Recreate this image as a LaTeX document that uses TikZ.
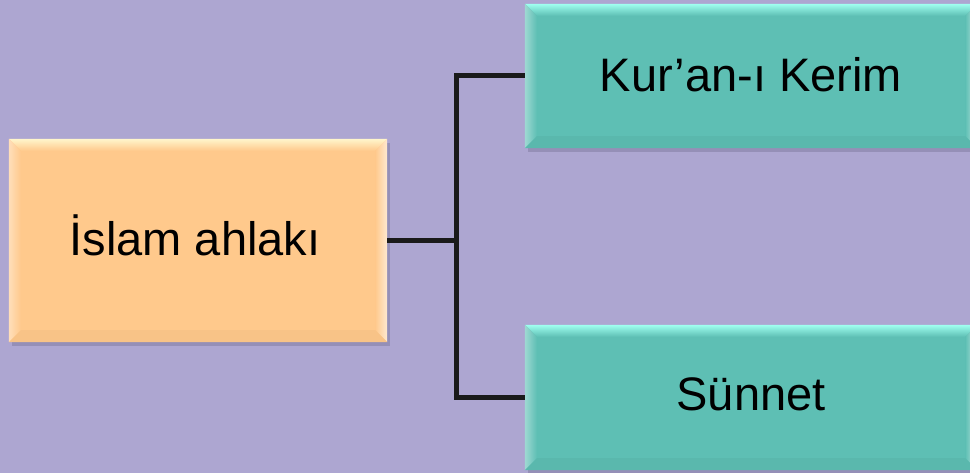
\documentclass[tikz,border=0pt]{standalone}
\usepackage{fontspec}
\setmainfont{Liberation Sans}
\usetikzlibrary{calc}
\definecolor{bg}{HTML}{ADA6D1}
\definecolor{orbase}{HTML}{FFC98C}
\definecolor{orlight}{HTML}{FFF6CC}
\definecolor{ordark}{HTML}{F8C387}
\definecolor{tebase}{HTML}{5EBFB4}
\definecolor{telight}{HTML}{A0FFF0}
\definecolor{tedark}{HTML}{5AB8AD}
\definecolor{conncol}{HTML}{1A1A1A}
\definecolor{shadowcol}{HTML}{8C86AC}
\newcommand\mybevel[4]{% name, light, base, dark
  \fill[shadowcol,opacity=0.7] ($(#1.north west)+(3,4)$) rectangle ($(#1.south east)+(3,4)$);
  \fill[#3] (#1.north west) rectangle (#1.south east);
  \shade[top color=#2,bottom color=#3] (#1.north west) -- (#1.north east) -- ($(#1.north east)+(-12,12)$) -- ($(#1.north west)+(12,12)$) -- cycle;
  \shade[left color=#3,right color=white!60!#3] (#1.north east) -- (#1.south east) -- ($(#1.south east)+(-12,-12)$) -- ($(#1.north east)+(-12,12)$) -- cycle;
  \shade[left color=white!40!#3,right color=#3] (#1.north west) -- (#1.south west) -- ($(#1.south west)+(12,-12)$) -- ($(#1.north west)+(12,12)$) -- cycle;
  \fill[#4] (#1.south west) -- (#1.south east) -- ($(#1.south east)+(-12,-12)$) -- ($(#1.south west)+(12,-12)$) -- cycle;
}
\begin{document}
\begin{tikzpicture}[x=1pt,y=-1pt]
\tikzset{
  boxshape/.style={rectangle, inner sep=0pt, draw=none},
  lbl/.style={inner sep=0pt, font=\fontsize{47}{56}\selectfont, text=black},
  conn/.style={draw=conncol, line width=5pt, line join=miter}
}
\fill[bg] (0,0) rectangle (970,473);
\useasboundingbox (0,0) rectangle (970,473);
% boxes
\node[boxshape, minimum width=378pt, minimum height=203pt] (islam) at (198,240.5) {};
\node[boxshape, minimum width=452pt, minimum height=144pt] (kuran) at (751,76) {};
\node[boxshape, minimum width=452pt, minimum height=145pt] (sunnet) at (751,397.5) {};
\mybevel{islam}{orlight}{orbase}{ordark}
\mybevel{kuran}{telight}{tebase}{tedark}
\mybevel{sunnet}{telight}{tebase}{tedark}
\node[lbl, anchor=base] (tislam) at ($(islam.center)+(-3,15)$) {İslam ahlakı};
\node[lbl, anchor=base] (tkuran) at ($(kuran.center)+(0,16)$) {Kur’an-ı Kerim};
\node[lbl, anchor=base] (tsunnet) at ($(sunnet.center)+(0,12.5)$) {Sünnet};
% connectors
\coordinate (j) at ($(islam.east)+(69,0)$);
\draw[conn] (islam.east) -- (j);
\draw[conn] (kuran.west) -| (j) |- (sunnet.west);
\end{tikzpicture}
\end{document}
